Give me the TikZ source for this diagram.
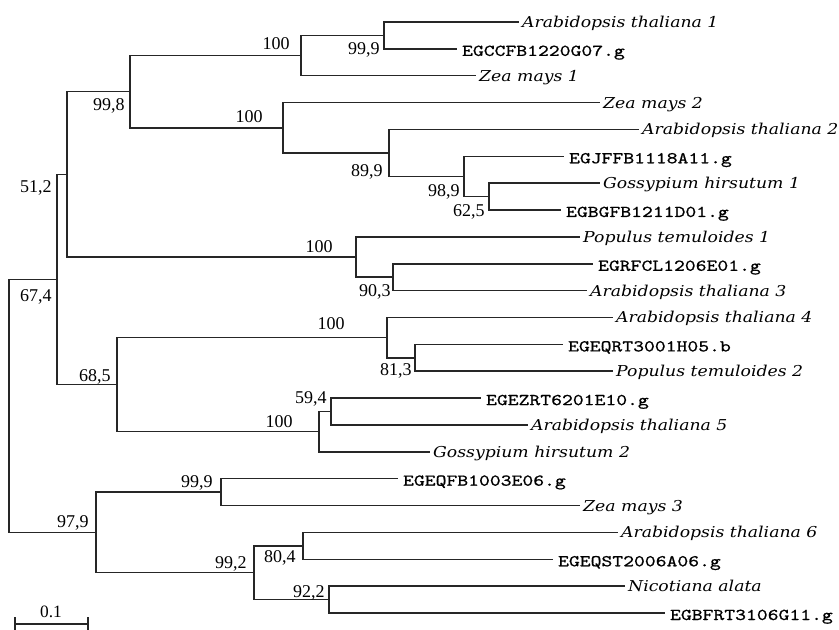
\documentclass[tikz,border=0pt]{standalone}
\usepackage{fontspec}
\newfontfamily\spfont{DejaVu Serif}[FakeStretch=1.15]
\newfontfamily\codefont{lmmono10-regular.otf}[FakeStretch=1.25,FakeBold=0.8]
\newfontfamily\numfont{Liberation Serif}
\begin{document}
\begin{tikzpicture}[x=0.75pt,y=-0.75pt,
  branch/.style={line width=1.15pt,draw=black!85},
  sp/.style={anchor=west,inner xsep=2.2pt,inner ysep=0pt,text height=8.2pt,text depth=0pt,
    font=\spfont\itshape\fontsize{11.25}{13}\selectfont},
  code/.style={anchor=west,inner xsep=3.6pt,inner ysep=0pt,text height=10.5pt,text depth=0pt,
    font=\codefont\fontsize{12.4}{15}\selectfont},
  bs/.style={anchor=base east,inner sep=0pt,font=\numfont\fontsize{13.5}{15}\selectfont}]
\useasboundingbox (0,0) rectangle (839,630);
\fill[white] (0,0) rectangle (839,630);
% internal nodes
\coordinate (root) at (9,405.95);
\coordinate (n674) at (57,279.5);
\coordinate (n512) at (67,174.4);
\coordinate (n998) at (130,91.7);
\coordinate (n100a) at (301,55.6);
\coordinate (n999a) at (384,35.45);
\coordinate (n100b) at (283,127.8);
\coordinate (n899) at (389,152.97);
\coordinate (n989) at (464,176.45);
\coordinate (n625) at (489,196.6);
\coordinate (n100c) at (356,257.05);
\coordinate (n903) at (393,277.2);
\coordinate (n685) at (117,384.7);
\coordinate (n100d) at (387,337.65);
\coordinate (n813) at (415,357.8);
\coordinate (n100e) at (319,431.7);
\coordinate (n594) at (331,411.55);
\coordinate (n979) at (96,532.4);
\coordinate (n999b) at (221,492.15);
\coordinate (n992) at (254,572.7);
\coordinate (n804) at (303,545.85);
\coordinate (n922) at (329,599.55);
% leaves
\node[sp]   (ath1)  at (519,22.0)  {Arabidopsis thaliana 1};
\node[code] (egcc)  at (457,48.9)  {EGCCFB1220G07.g};
\node[sp]   (zm1)   at (476,75.7)  {Zea mays 1};
\node[sp]   (zm2)   at (600,102.6) {Zea mays 2};
\node[sp]   (ath2)  at (639,129.5) {Arabidopsis thaliana 2};
\node[code] (egjf)  at (564,156.3) {EGJFFB1118A11.g};
\node[sp]   (gh1)   at (600,183.2) {Gossypium hirsutum 1};
\node[code] (egbg)  at (561,210.0) {EGBGFB1211D01.g};
\node[sp]   (pt1)   at (580,236.9) {Populus temuloides 1};
\node[code] (egrf)  at (593,263.8) {EGRFCL1206E01.g};
\node[sp]   (ath3)  at (587,290.6) {Arabidopsis thaliana 3};
\node[sp]   (ath4)  at (613,317.5) {Arabidopsis thaliana 4};
\node[code] (egqr)  at (563,344.4) {EGEQRT3001H05.b};
\node[sp]   (pt2)   at (613,371.2) {Populus temuloides 2};
\node[code] (egez)  at (481,398.1) {EGEZRT6201E10.g};
\node[sp]   (ath5)  at (528,425.0) {Arabidopsis thaliana 5};
\node[sp]   (gh2)   at (430,451.8) {Gossypium hirsutum 2};
\node[code] (egfb)  at (398,478.7) {EGEQFB1003E06.g};
\node[sp]   (zm3)   at (580,505.6) {Zea mays 3};
\node[sp]   (ath6)  at (618,532.4) {Arabidopsis thaliana 6};
\node[code] (egst)  at (553,559.3) {EGEQST2006A06.g};
\node[sp]   (nic)   at (625,586.1) {Nicotiana alata};
\node[code] (egbf)  at (665,613.0) {EGBFRT3106G11.g};
% branches
\draw[branch] (root) |- (n674);
\draw[branch] (root) |- (n979);
\draw[branch] (n674) |- (n512);
\draw[branch] (n674) |- (n685);
\draw[branch] (n512) |- (n998);
\draw[branch] (n512) |- (n100c);
\draw[branch] (n998) |- (n100a);
\draw[branch] (n998) |- (n100b);
\draw[branch] (n100a) |- (n999a);
\draw[branch] (n100a) |- (zm1.west);
\draw[branch] (n999a) |- (ath1.west);
\draw[branch] (n999a) |- (egcc.west);
\draw[branch] (n100b) |- (zm2.west);
\draw[branch] (n100b) |- (n899);
\draw[branch] (n899) |- (ath2.west);
\draw[branch] (n899) |- (n989);
\draw[branch] (n989) |- (egjf.west);
\draw[branch] (n989) |- (n625);
\draw[branch] (n625) |- (gh1.west);
\draw[branch] (n625) |- (egbg.west);
\draw[branch] (n100c) |- (pt1.west);
\draw[branch] (n100c) |- (n903);
\draw[branch] (n903) |- (egrf.west);
\draw[branch] (n903) |- (ath3.west);
\draw[branch] (n685) |- (n100d);
\draw[branch] (n685) |- (n100e);
\draw[branch] (n100d) |- (ath4.west);
\draw[branch] (n100d) |- (n813);
\draw[branch] (n813) |- (egqr.west);
\draw[branch] (n813) |- (pt2.west);
\draw[branch] (n100e) |- (n594);
\draw[branch] (n100e) |- (gh2.west);
\draw[branch] (n594) |- (egez.west);
\draw[branch] (n594) |- (ath5.west);
\draw[branch] (n979) |- (n999b);
\draw[branch] (n979) |- (n992);
\draw[branch] (n999b) |- (egfb.west);
\draw[branch] (n999b) |- (zm3.west);
\draw[branch] (n992) |- (n804);
\draw[branch] (n992) |- (n922);
\draw[branch] (n804) |- (ath6.west);
\draw[branch] (n804) |- (egst.west);
\draw[branch] (n922) |- (nic.west);
\draw[branch] (n922) |- (egbf.west);
% bootstrap values
\node[bs] (b100a) at (290,50) {100};
\node[bs] (b999a) at (380,55) {99,9};
\node[bs] (b998) at (125,110.5) {99,8};
\node[bs] (b100b) at (263,122.5) {100};
\node[bs] (b899) at (383,177) {89,9};
\node[bs] (b989) at (460,197) {98,9};
\node[bs] (b625) at (485,217) {62,5};
\node[bs] (b512) at (52,193) {51,2};
\node[bs] (b674) at (52,302) {67,4};
\node[bs] (b100c) at (333,252.5) {100};
\node[bs] (b903) at (391,296.5) {90,3};
\node[bs] (b100d) at (345,330) {100};
\node[bs] (b813) at (412,376) {81,3};
\node[bs] (b685) at (111,381.5) {68,5};
\node[bs] (b594) at (327,404) {59,4};
\node[bs] (b100e) at (293,427.5) {100};
\node[bs] (b999b) at (213,488) {99,9};
\node[bs] (b979) at (89,528) {97,9};
\node[bs] (b992) at (247,569) {99,2};
\node[bs] (b804) at (296,562) {80,4};
\node[bs] (b922) at (325,597) {92,2};
% scale bar
\coordinate (sbl) at (15,624);
\coordinate (sbr) at (88,624);
\draw[branch] (sbl) -- (sbr);
\draw[branch] ([yshift=5.25pt]sbl) -- ([yshift=-4.5pt]sbl);
\draw[branch] ([yshift=5.25pt]sbr) -- ([yshift=-4.5pt]sbr);
\node[anchor=base,inner sep=0pt,font=\numfont\fontsize{13}{15}\selectfont] (sblabel) at (51,618) {0.1};
\end{tikzpicture}
\end{document}
